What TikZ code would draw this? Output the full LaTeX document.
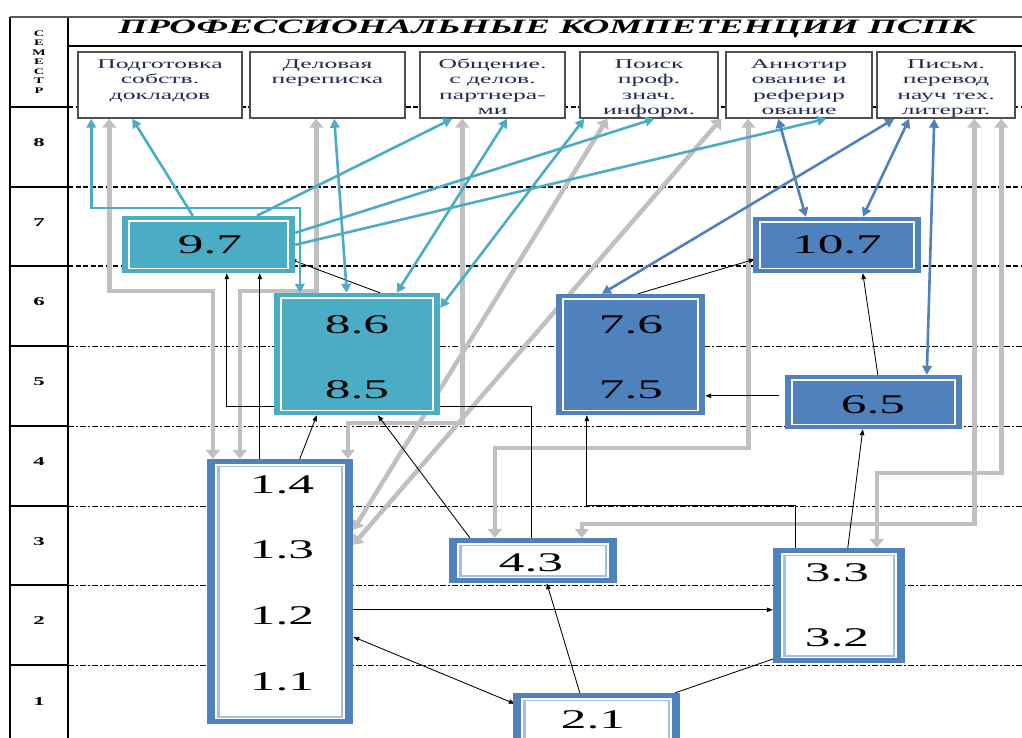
\documentclass[tikz,border=0pt]{standalone}
\usepackage{fontspec}
\setmainfont{Liberation Serif}
\usepackage{graphicx}
\usetikzlibrary{arrows.meta,calc}
\definecolor{tealc}{HTML}{4BACC6}
\definecolor{bluec}{HTML}{4F81BD}
\definecolor{lbluec}{HTML}{A7BFDE}
\definecolor{grayc}{HTML}{C0C0C0}
\definecolor{hdrc}{HTML}{1F2A4F}
\definecolor{framec}{HTML}{505050}
\newcommand{\sx}[2][1.9]{\scalebox{#1}[1]{#2}}
% filled box: name, colour, cx, cy, w, h
\newcommand{\mkfilled}[6]{%
  \node[inner sep=0pt, outer sep=0pt, minimum width=#5pt, minimum height=#6pt, fill=#2] (#1) at (#3,#4) {};
  \fill[white] ($(#1.north west)+(6,4)$) rectangle ($(#1.south east)+(-6,-4)$);
  \fill[#2] ($(#1.north west)+(8,5.5)$) rectangle ($(#1.south east)+(-8,-5.5)$);
}
% white box: name, cx, cy, w, h
\newcommand{\mkwhite}[5]{%
  \node[inner sep=0pt, outer sep=0pt, minimum width=#4pt, minimum height=#5pt, fill=bluec] (#1) at (#2,#3) {};
  \fill[white] ($(#1.north west)+(8,5)$) rectangle ($(#1.south east)+(-8,-5)$);
  \fill[lbluec] ($(#1.north west)+(10,6.5)$) rectangle ($(#1.south east)+(-10,-6.5)$);
  \fill[white] ($(#1.north west)+(12.5,8)$) rectangle ($(#1.south east)+(-12.5,-8)$);
}
\begin{document}
\begin{tikzpicture}[x=1pt,y=-1pt,
  gridthick/.style={line width=1.3pt, dash pattern=on 5pt off 2.5pt},
  gridthin/.style={line width=0.7pt, dash pattern=on 6pt off 2pt on 2pt off 2pt},
  hbox/.style={draw=framec, line width=1.5pt, fill=white, inner sep=0pt, minimum height=66pt},
  htext/.style={anchor=north, inner sep=0pt, text=hdrc, font=\fontsize{13.5}{15.5}\selectfont},
  semlab/.style={inner sep=0pt, font=\fontsize{12}{12}\selectfont\bfseries},
  num/.style={inner sep=0pt, font=\fontsize{27}{27}\selectfont},
  tline/.style={draw=tealc, line width=2.6pt, line join=miter},
  tarr/.style={tline, -{Triangle[length=9pt,width=9.5pt]}},
  tdbl/.style={tline, {Triangle[length=9pt,width=9.5pt]}-{Triangle[length=9pt,width=9.5pt]}},
  udbl/.style={draw=bluec, line width=2.6pt, {Triangle[length=9pt,width=9.5pt]}-{Triangle[length=9pt,width=9.5pt]}},
  gdbl/.style={draw=grayc, line width=4.5pt, line join=miter, {Triangle[length=9pt,width=14pt]}-{Triangle[length=9pt,width=14pt]}},
  karr/.style={draw=black, line width=0.85pt, -{Triangle[length=6pt,width=4.5pt]}},
  kdbl/.style={draw=black, line width=0.85pt, {Triangle[length=6pt,width=4.5pt]}-{Triangle[length=6pt,width=4.5pt]}}]
\useasboundingbox (0,0) rectangle (1022,738);
\fill[white] (0,0) rectangle (1022,738);
\clip (0,0) rectangle (1022,738);

% frame and grid
\draw[line width=1.3pt] (10,17) -- (10,738);
\draw[line width=1.3pt] (68,17) -- (68,738);
\draw[line width=1.8pt, black!65] (10,17) -- (1022,17);
\draw[line width=1.2pt] (68,46) -- (1022,46);
\foreach \y in {107,187,266,346,426,506,585,665} \draw[line width=1.2pt] (10,\y) -- (68,\y);
\foreach \y in {107,187,266} \draw[gridthick] (68,\y) -- (1022,\y);
\foreach \y in {346,426,506,585,665} \draw[gridthin] (68,\y) -- (1022,\y);

% semester column
\node[anchor=north, inner sep=0pt, font=\fontsize{8.5}{9.5}\selectfont\bfseries] (semtitle) at (39,29.5)
  {\sx[1.7]{\begin{tabular}{@{}c@{}}С\\Е\\М\\Е\\С\\Т\\Р\end{tabular}}};
\foreach \n/\y in {8/143,7/223,6/302,5/382,4/462,3/542,2/621,1/702}
  \node[semlab] (sem\n) at (39,\y) {\sx{\n}};

% title
\node[anchor=base, inner sep=0pt] (title) at (547,34)
  {\resizebox{857pt}{13.5pt}{\bfseries\itshape ПРОФЕССИОНАЛЬНЫЕ КОМПЕТЕНЦИИ ПСПК}};

% header boxes
\node[hbox, minimum width=164pt] (h1) at (160,85) {};
\node[hbox, minimum width=155pt] (h2) at (327.5,85) {};
\node[hbox, minimum width=145pt] (h3) at (492.5,85) {};
\node[hbox, minimum width=138pt] (h4) at (649,85) {};
\node[hbox, minimum width=146pt] (h5) at (799,85) {};
\node[hbox, minimum width=138pt] (h6) at (946,85) {};
\node[htext] (t1) at (160,57) {\sx{\begin{tabular}{@{}c@{}}Подготовка\\собств.\\докладов\end{tabular}}};
\node[htext] (t2) at (327.5,57) {\sx{\begin{tabular}{@{}c@{}}Деловая\\переписка\end{tabular}}};
\node[htext] (t3) at (492.5,57) {\sx{\begin{tabular}{@{}c@{}}Общение.\\с делов.\\партнера-\\ми\end{tabular}}};
\node[htext] (t4) at (649,57) {\sx{\begin{tabular}{@{}c@{}}Поиск\\проф.\\знач.\\информ.\end{tabular}}};
\node[htext] (t5) at (799,57) {\sx{\begin{tabular}{@{}c@{}}Аннотир\\ование и\\реферир\\ование\end{tabular}}};
\node[htext] (t6) at (946,57) {\sx{\begin{tabular}{@{}c@{}}Письм.\\перевод\\науч тех.\\литерат.\end{tabular}}};

% anchor nodes for the competence boxes (painted later)
\path (208.5,244.5) node[inner sep=0pt, minimum width=173pt, minimum height=57pt] (b97) {}
      (357,354) node[inner sep=0pt, minimum width=166pt, minimum height=122pt] (b86) {}
      (837,245) node[inner sep=0pt, minimum width=168pt, minimum height=56pt] (b107) {}
      (630.5,354.5) node[inner sep=0pt, minimum width=149pt, minimum height=121pt] (b76) {}
      (873.5,402) node[inner sep=0pt, minimum width=177pt, minimum height=54pt] (b65) {}
      (280,591.5) node[inner sep=0pt, minimum width=146pt, minimum height=265pt] (b1) {}
      (533,560.5) node[inner sep=0pt, minimum width=168pt, minimum height=45pt] (b43) {}
      (839,605.5) node[inner sep=0pt, minimum width=132pt, minimum height=115pt] (b3) {}
      (596.5,726.5) node[inner sep=0pt, minimum width=167pt, minimum height=67pt] (b21) {};

% gray connectors
\draw[gdbl] ($(b1.north west)+(6,0)$) -- ++(0,-168) -| ($(h1.south west)+(32,0)$);
\draw[gdbl] ($(b1.north west)+(33,0)$) -- ++(0,-168) -| ($(h2.south west)+(67,0)$);
\draw[gdbl] ($(h3.south west)+(43,0)$) -- ++(0,304) -| ($(b1.north west)+(141,0)$);
\draw[gdbl] ($(h4.south west)+(28,0)$) -- ($(b1.north east)+(0,71)$);
\draw[gdbl] ($(h5.south west)+(-4,0)$) -- ($(b1.north east)+(0,86)$);
\draw[gdbl] ($(h5.south west)+(23,0)$) -- ++(0,329) -| ($(b43.north west)+(46,0)$);
\draw[gdbl] ($(h6.south west)+(98,0)$) -- ++(0,405) -| ($(b43.north west)+(133,0)$);
\draw[gdbl] ($(h6.south west)+(125,0)$) -- ++(0,354) -| ($(b3.north west)+(104,0)$);

% black connectors
\draw[karr] ($(b43.north west)+(83,0)$) -- ++(0,-131) -| ($(b97.south west)+(105,0)$);
\draw[karr] ($(b1.north west)+(53,0)$) -- ($(b97.south west)+(138,0)$);
\draw[karr] ($(b86.north west)+(106,0)$) -- ($(b97.south east)+(-5,-14)$);
\draw[karr] ($(b1.north west)+(93,0)$) -- ($(b86.south west)+(43,0)$);
\draw[karr] ($(b43.north west)+(21,0)$) -- ($(b86.south west)+(104,0)$);
\draw[karr] ($(b21.north west)+(67,0)$) -- ($(b43.south west)+(98,0)$);
\draw[karr] ($(b21.north east)+(-5,0)$) -- ($(b3.south west)+(17,-10)$);
\draw[kdbl] ($(b1.north east)+(0,178)$) -- ($(b21.north west)+(2,11)$);
\draw[karr] ($(b1.north east)+(0,151)$) -- ($(b3.north west)+(0,62)$);
\draw[karr] ($(b3.north west)+(23,0)$) -- ++(0,-42) -| ($(b76.south west)+(31,0)$);
\draw[karr] ($(b3.north west)+(75,0)$) -- ($(b65.south west)+(78,0)$);
\draw[karr] ($(b65.north west)+(-6,21)$) -- ($(b76.north east)+(0,102)$);
\draw[karr] ($(b76.north west)+(82,0)$) -- ($(b107.south west)+(2,-14)$);
\draw[karr] ($(b65.north west)+(93,0)$) -- ($(b107.south west)+(110,0)$);

% boxes
\mkfilled{f97}{tealc}{208.5}{244.5}{173}{57}
\mkfilled{f86}{tealc}{357}{354}{166}{122}
\mkfilled{f107}{bluec}{837}{245}{168}{56}
\mkfilled{f76}{bluec}{630.5}{354.5}{149}{121}
\mkfilled{f65}{bluec}{873.5}{402}{177}{54}
\mkwhite{w1}{280}{591.5}{146}{265}
\mkwhite{w43}{533}{560.5}{168}{45}
\mkwhite{w3}{839}{605.5}{132}{115}
\mkwhite{w21}{596.5}{726.5}{167}{67}

% numbers
\node[num] (n97) at (210,245) {\sx{9.7}};
\node[num] (n86) at (357,325) {\sx{8.6}};
\node[num] (n85) at (357,390) {\sx{8.5}};
\node[num] (n107) at (837,245) {\sx{10.7}};
\node[num] (n76) at (631,325) {\sx{7.6}};
\node[num] (n75) at (631,390) {\sx{7.5}};
\node[num] (n65) at (873,405) {\sx{6.5}};
\node[num] (n14) at (282,485) {\sx{1.4}};
\node[num] (n13) at (282,550) {\sx{1.3}};
\node[num] (n12) at (282,616) {\sx{1.2}};
\node[num] (n11) at (282,682) {\sx{1.1}};
\node[num] (n43) at (531,563) {\sx{4.3}};
\node[num] (n33) at (837,573) {\sx{3.3}};
\node[num] (n32) at (837,638) {\sx{3.2}};
\node[num] (n21) at (593,720) {\sx{2.1}};

% teal connectors
\draw[tdbl] ($(b86.north west)+(26,0)$) -- ++(0,-85) -| ($(h1.south west)+(14,0)$);
\draw[tarr] ($(b97.north west)+(71,0)$) -- ($(h1.south west)+(55,0)$);
\draw[tarr] ($(b97.north west)+(135,0)$) -- ($(h3.south west)+(33,0)$);
\draw[tarr] ($(b97.north east)+(0,17)$) -- ($(h4.south west)+(75,0)$);
\draw[tarr] ($(b97.north east)+(0,29)$) -- ($(h5.south west)+(101,0)$);
\draw[tdbl] ($(b86.north west)+(73,0)$) -- ($(h2.south west)+(85,0)$);
\draw[tdbl] ($(b86.north west)+(123,0)$) -- ($(h3.south west)+(88,0)$);
\draw[tdbl] ($(b86.north east)+(0,15)$) -- ($(h4.south west)+(5,0)$);

% blue connectors
\draw[udbl] ($(h5.south west)+(53,0)$) -- ($(b107.north west)+(53,0)$);
\draw[udbl] ($(h6.south west)+(33,0)$) -- ($(b107.north west)+(110,0)$);
\draw[udbl] ($(h6.south west)+(18,0)$) -- ($(b76.north west)+(46,0)$);
\draw[udbl] ($(h6.south west)+(58,0)$) -- ($(b65.north west)+(142,0)$);
\end{tikzpicture}
\end{document}
